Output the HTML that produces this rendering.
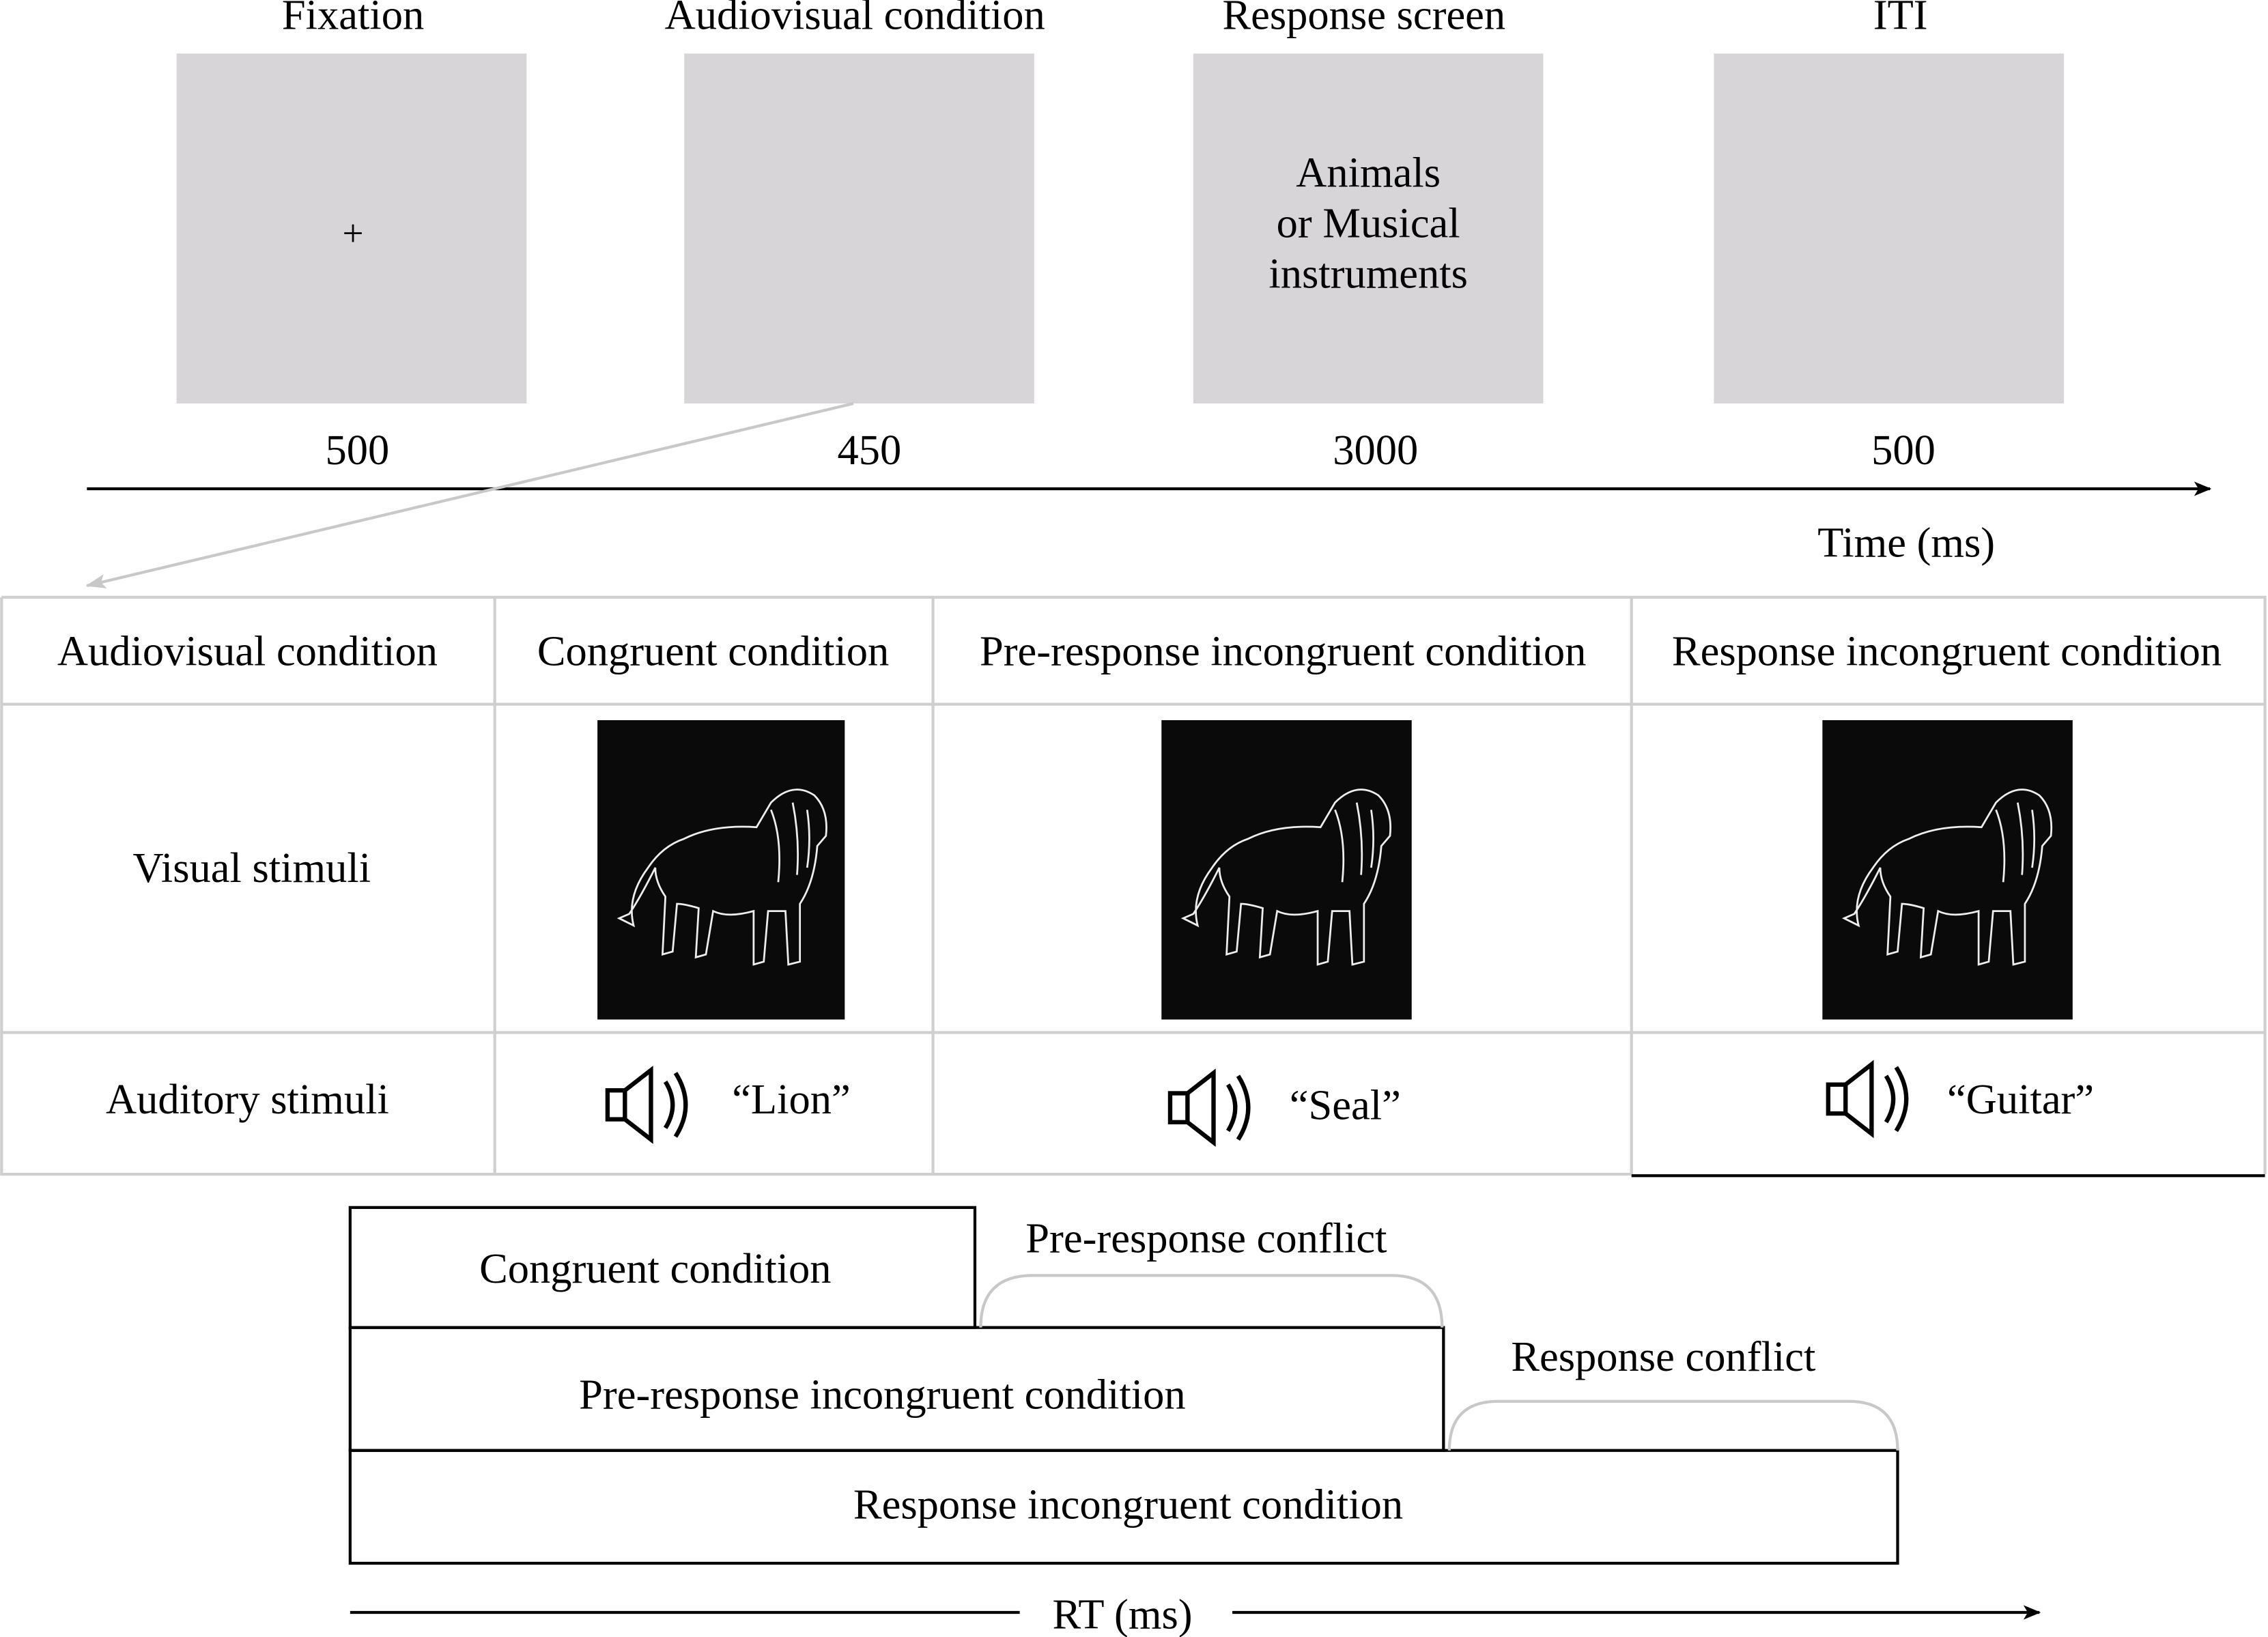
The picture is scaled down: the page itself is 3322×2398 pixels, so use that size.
<!DOCTYPE html>
<html><head><meta charset="utf-8"><style>html,body{margin:0;padding:0;background:#fff}svg{display:block}</style></head>
<body>
<svg width="3322" height="2398" viewBox="0 0 1568 1132" xmlns="http://www.w3.org/2000/svg" font-family="'Liberation Serif', serif" font-size="29.5" text-anchor="middle" fill="#000">
<defs>
<marker id="ab" markerWidth="12" markerHeight="10" refX="11" refY="5" orient="auto" markerUnits="userSpaceOnUse"><path d="M0,0 L12,5 L0,10 L3,5 Z" fill="#000"/></marker>
<marker id="ag" markerWidth="14" markerHeight="10" refX="13" refY="5" orient="auto" markerUnits="userSpaceOnUse"><path d="M0,0 L14,5 L0,10 L3,5 Z" fill="#c8c8c8"/></marker>
<g id="lion" fill="none" stroke="#eee" stroke-width="1.3">
<path d="M25,140 Q20,120 35,100 Q45,85 60,80 Q80,70 110,72 L120,55 Q135,40 150,50 Q160,60 158,78 L152,85 Q150,110 140,125 L140,165 L132,167 L130,130 L118,130 L115,165 L108,167 L108,130 Q90,135 80,130 L75,160 L68,162 L70,128 Q60,125 55,125 L52,158 L45,160 L47,120 Q40,110 40,100 Q30,120 22,132 L15,135 Z"/>
<path d="M120,60 Q128,80 125,110 M135,55 Q140,80 138,105 M145,60 Q148,80 145,100"/>
</g>
<g id="spk" fill="none" stroke="#000" stroke-width="3"><rect x="0" y="14" width="12" height="20"/><path d="M12,14 L30,0 L30,48 L12,34"/><path d="M40,8 Q50,24 40,40"/><path d="M47,2 Q61,24 47,46"/></g>
</defs>
<text x="244" y="20">Fixation</text>
<text x="591" y="20">Audiovisual condition</text>
<text x="943" y="20">Response screen</text>
<text x="1314" y="20">ITI</text>
<g fill="#d7d5d8"><rect x="122" y="37" width="242" height="242"/><rect x="473" y="37" width="242" height="242"/><rect x="825" y="37" width="242" height="242"/><rect x="1185" y="37" width="242" height="242"/></g>
<text x="244" y="170" font-size="26">+</text>
<text x="946" y="129">Animals</text><text x="946" y="164">or Musical</text><text x="946" y="199">instruments</text>
<text x="247" y="321">500</text><text x="601" y="321">450</text><text x="951" y="321">3000</text><text x="1316" y="321">500</text>
<line x1="60" y1="338" x2="1528" y2="338" stroke="#000" stroke-width="2" marker-end="url(#ab)"/>
<text x="1318" y="385">Time (ms)</text>
<line x1="590" y1="279" x2="60" y2="405" stroke="#c8c8c8" stroke-width="2" marker-end="url(#ag)"/>
<g stroke="#cfcfcf" stroke-width="2" fill="none">
<path d="M1,413 H1566 V812 M1,413 V812 H1128 M1,487 H1566 M1,714 H1566 M342,413 V812 M645,413 V812 M1128,413 V812"/>
</g>
<line x1="1128" y1="813" x2="1566" y2="813" stroke="#000" stroke-width="2"/>
<text x="171" y="460">Audiovisual condition</text>
<text x="493" y="460">Congruent condition</text>
<text x="887" y="460">Pre-response incongruent condition</text>
<text x="1346" y="460">Response incongruent condition</text>
<text x="174" y="610">Visual stimuli</text>
<text x="171" y="770">Auditory stimuli</text>
<rect x="413" y="498" width="171" height="207" fill="#0a0a0a"/><use href="#lion" x="413" y="500"/>
<rect x="803" y="498" width="173" height="207" fill="#0a0a0a"/><use href="#lion" x="803" y="500"/>
<rect x="1260" y="498" width="173" height="207" fill="#0a0a0a"/><use href="#lion" x="1260" y="500"/>
<use href="#spk" x="420" y="740"/><text x="547" y="770">“Lion”</text>
<use href="#spk" x="809" y="742"/><text x="930" y="774">“Seal”</text>
<use href="#spk" x="1264" y="736"/><text x="1397" y="770">“Guitar”</text>
<g fill="none" stroke="#000" stroke-width="2">
<rect x="242" y="835" width="432" height="83"/>
<rect x="242" y="918" width="756" height="85"/>
<rect x="242" y="1003" width="1070" height="78"/>
</g>
<text x="453" y="887">Congruent condition</text>
<text x="610" y="974">Pre-response incongruent condition</text>
<text x="780" y="1050">Response incongruent condition</text>
<g fill="none" stroke="#c8c8c8" stroke-width="2">
<path d="M678,918 Q678,882 714,882 H962 Q997,882 997,918"/>
<path d="M1002,1003 Q1002,969 1036,969 H1278 Q1312,969 1312,1003"/>
</g>
<text x="834" y="866">Pre-response conflict</text>
<text x="1150" y="948">Response conflict</text>
<line x1="242" y1="1115" x2="705" y2="1115" stroke="#000" stroke-width="2"/>
<text x="776" y="1126">RT (ms)</text>
<line x1="852" y1="1115" x2="1410" y2="1115" stroke="#000" stroke-width="2" marker-end="url(#ab)"/>
</svg>
</body></html>
